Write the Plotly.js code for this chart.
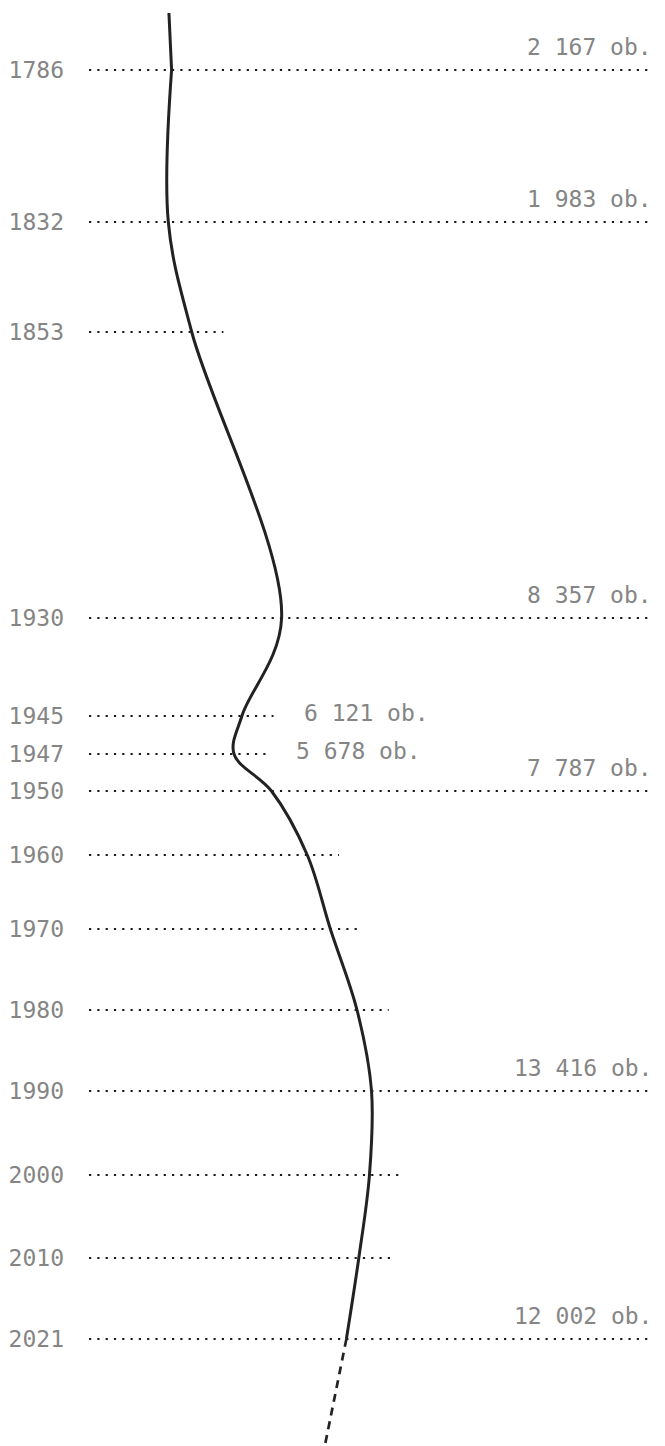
<!DOCTYPE html>
<html>
<head>
<meta charset="utf-8">
<script src="https://cdn.plot.ly/plotly-3.0.1.min.js"></script>
<style>
  html, body { margin: 0; padding: 0; background: #fff; }
  #chart { width: 665px; height: 1446px; }
</style>
</head>
<body>
<div id="chart"></div>
<script>
// ---- data ----
const years      = [1786, 1832, 1853, 1930, 1945, 1947, 1950, 1960, 1970, 1980, 1990, 2000, 2010, 2021];
const population = [2167, 1983, 3300, 8357, 6121, 5678, 7787, 9800, 11100, 12600, 13416, 13300, 12700, 12002];
const labelledYears = [1786, 1832, 1930, 1945, 1947, 1950, 1990, 2021];
const inlineLabelYears = [1945, 1947];

// ---- layout config (designed, non-uniform timeline rows) ----
const rowPos = [70, 222, 332, 618, 716, 754, 791, 855, 929, 1010, 1091, 1175, 1258, 1339];
const xRange = [-2480, 29253];
const yRange = [1446, 0];
const lineTail = 1780;     // dotted line runs past the value by this much (data units)
const headRise = 57, headDrift = -150;
const tailDrop = 110, tailDrift = -1250;

const FONT = '"DejaVu Sans Mono", "Liberation Mono", monospace';
const TEXT = '#858585';
const INK = '#222222';

function fmt(n) {
  return String(n).replace(/\B(?=(\d{3})+(?!\d))/g, ' ') + ' ob.';
}

const shapes = [];
const annotations = [];
years.forEach((yr, i) => {
  const labelled = labelledYears.includes(yr);
  const inline = inlineLabelYears.includes(yr);
  const full = labelled && !inline;
  shapes.push({
    type: 'line', xref: 'x', yref: 'y', layer: 'below',
    x0: xRange[0], x1: full ? xRange[1] : population[i] + lineTail,
    y0: rowPos[i], y1: rowPos[i],
    line: { color: '#1a1a1a', width: 2.2, dash: '2.2px,6.1px' }
  });
  if (full) {
    annotations.push({
      xref: 'paper', yref: 'y', x: 1, y: rowPos[i], xanchor: 'right', yanchor: 'middle',
      yshift: 23, xshift: 1, showarrow: false, text: fmt(population[i]),
      font: { family: FONT, size: 23, color: TEXT }
    });
  } else if (inline) {
    annotations.push({
      xref: 'x', yref: 'y', x: population[i] + lineTail, y: rowPos[i], xanchor: 'left', yanchor: 'middle',
      xshift: 28, yshift: 3, showarrow: false, text: fmt(population[i]),
      font: { family: FONT, size: 23, color: TEXT }
    });
  }
});

const n = years.length;
const traces = [
  {
    x: population, y: rowPos, type: 'scatter', mode: 'lines',
    line: { color: INK, width: 3, shape: 'spline', smoothing: 1 },
    hoverinfo: 'skip'
  },
  {
    x: [population[0] + headDrift, population[0]], y: [rowPos[0] - headRise, rowPos[0]],
    type: 'scatter', mode: 'lines', line: { color: INK, width: 3 }, hoverinfo: 'skip'
  },
  {
    x: [population[n - 1], population[n - 1] + tailDrift], y: [rowPos[n - 1], rowPos[n - 1] + tailDrop],
    type: 'scatter', mode: 'lines', line: { color: INK, width: 2.7, dash: '8px,6px' }, hoverinfo: 'skip'
  }
];

const layout = {
  width: 665, height: 1446,
  margin: { l: 89, r: 12, t: 0, b: 0 },
  paper_bgcolor: '#fff', plot_bgcolor: '#fff',
  showlegend: false,
  xaxis: { range: xRange, visible: false, fixedrange: true },
  yaxis: {
    range: yRange, showgrid: false, zeroline: false, showline: false,
    tickmode: 'array', tickvals: rowPos, ticktext: years.map(String),
    ticks: '', ticklabelstandoff: 24,
    tickfont: { family: FONT, size: 23, color: TEXT }, fixedrange: true
  },
  shapes: shapes,
  annotations: annotations
};

Plotly.newPlot('chart', traces, layout, { displayModeBar: false, staticPlot: true });
</script>
</body>
</html>
